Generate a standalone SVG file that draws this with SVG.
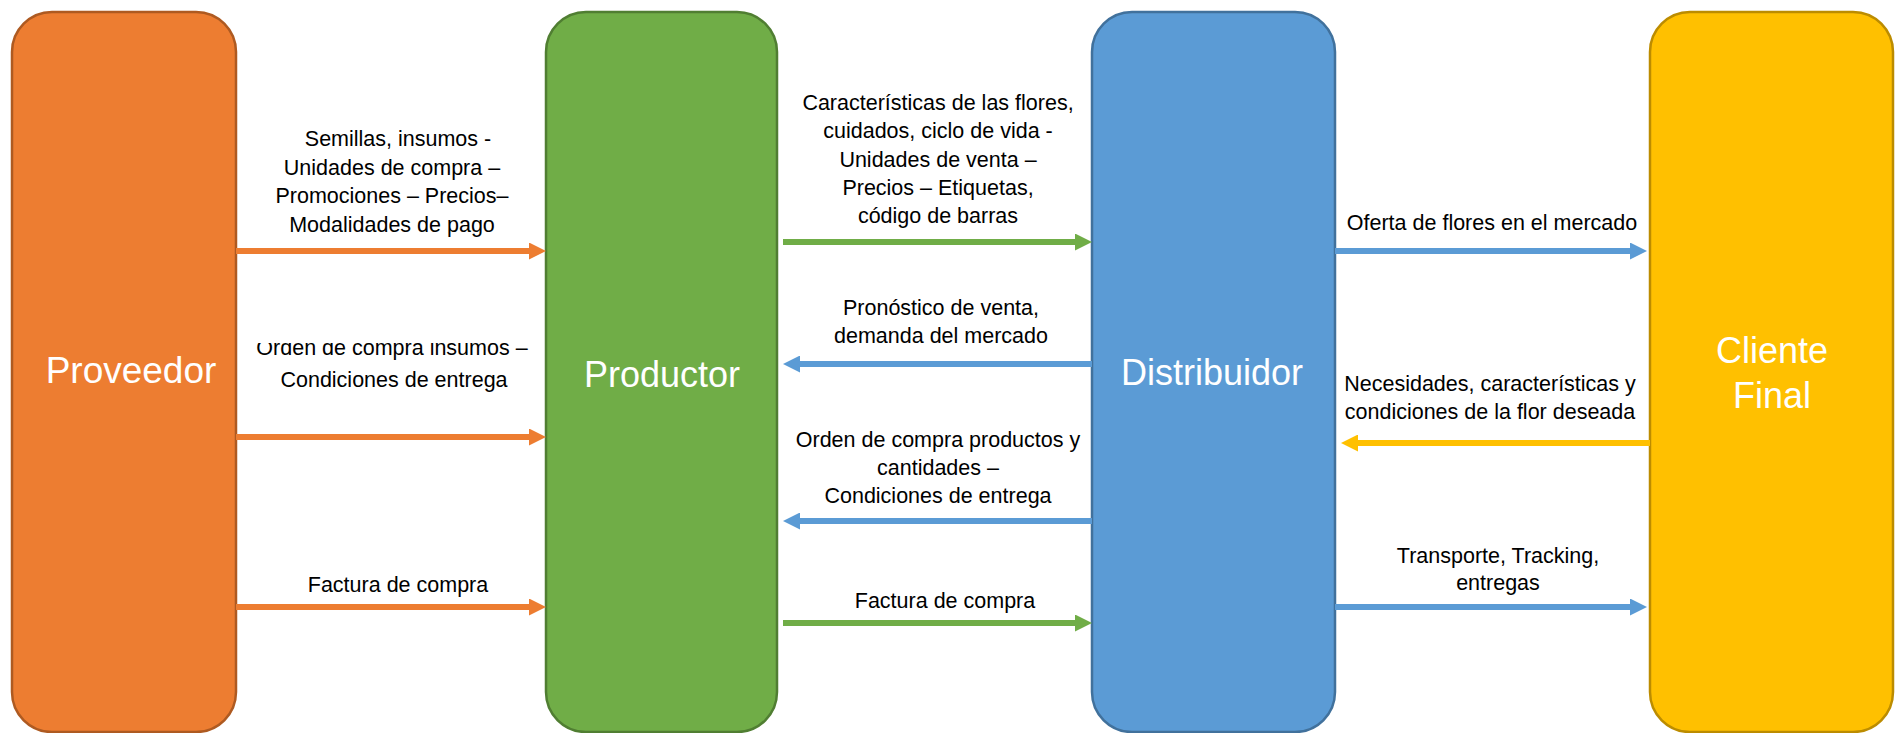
<svg xmlns="http://www.w3.org/2000/svg" width="1896" height="733" viewBox="0 0 1896 733">
<style>
.box{stroke-width:2.5}
.lbl{font-family:"Liberation Sans",Arial,sans-serif;font-size:21.5px;fill:#000;text-anchor:middle}
.node{font-family:"Liberation Sans",Arial,sans-serif;font-size:36px;fill:#fff;text-anchor:middle}
.c{stroke-width:6;fill:none}
</style>
<defs>
<marker id="ao" viewBox="0 0 17 17" refX="0" refY="8.5" markerWidth="17" markerHeight="17" markerUnits="userSpaceOnUse" orient="auto"><path d="M0,0 L17,8.5 L0,17 z" fill="#ED7D31"/></marker>
<marker id="ag" viewBox="0 0 17 17" refX="0" refY="8.5" markerWidth="17" markerHeight="17" markerUnits="userSpaceOnUse" orient="auto"><path d="M0,0 L17,8.5 L0,17 z" fill="#70AD47"/></marker>
<marker id="ab" viewBox="0 0 17 17" refX="0" refY="8.5" markerWidth="17" markerHeight="17" markerUnits="userSpaceOnUse" orient="auto"><path d="M0,0 L17,8.5 L0,17 z" fill="#5B9BD5"/></marker>
<marker id="ay" viewBox="0 0 17 17" refX="0" refY="8.5" markerWidth="17" markerHeight="17" markerUnits="userSpaceOnUse" orient="auto"><path d="M0,0 L17,8.5 L0,17 z" fill="#FFC000"/></marker>
<clipPath id="clipB"><rect x="230" y="343" width="320" height="60"/></clipPath>
</defs>
<rect width="1896" height="733" fill="#fff"/>

<g id="proveedor">
<rect class="box" x="12" y="12" width="224" height="720" rx="40" fill="#ED7D31" stroke="#AE5A21"/>
<text class="node" x="131" y="383" style="font-size:37px">Proveedor</text>
</g>
<g id="productor">
<rect class="box" x="546" y="12" width="231" height="720" rx="40" fill="#70AD47" stroke="#507E32"/>
<text class="node" x="662" y="387">Productor</text>
</g>
<g id="distribuidor">
<rect class="box" x="1092" y="12" width="243" height="720" rx="40" fill="#5B9BD5" stroke="#41719C"/>
<text class="node" x="1212" y="385">Distribuidor</text>
</g>
<g id="cliente">
<rect class="box" x="1650" y="12" width="243" height="720" rx="40" fill="#FFC000" stroke="#BC8C00"/>
<text class="node" x="1772" y="363">Cliente</text>
<text class="node" x="1772" y="408">Final</text>
</g>

<g id="connectors">
<line class="c" x1="236" y1="251" x2="529" y2="251" stroke="#ED7D31" marker-end="url(#ao)"/>
<line class="c" x1="236" y1="437" x2="529" y2="437" stroke="#ED7D31" marker-end="url(#ao)"/>
<line class="c" x1="236" y1="607" x2="529" y2="607" stroke="#ED7D31" marker-end="url(#ao)"/>
<line class="c" x1="783" y1="242" x2="1075" y2="242" stroke="#70AD47" marker-end="url(#ag)"/>
<line class="c" x1="1092" y1="364" x2="800" y2="364" stroke="#5B9BD5" marker-end="url(#ab)"/>
<line class="c" x1="1092" y1="521" x2="800" y2="521" stroke="#5B9BD5" marker-end="url(#ab)"/>
<line class="c" x1="783" y1="623" x2="1075" y2="623" stroke="#70AD47" marker-end="url(#ag)"/>
<line class="c" x1="1335" y1="251" x2="1630" y2="251" stroke="#5B9BD5" marker-end="url(#ab)"/>
<line class="c" x1="1650" y1="443" x2="1358" y2="443" stroke="#FFC000" marker-end="url(#ay)"/>
<line class="c" x1="1335" y1="607" x2="1630" y2="607" stroke="#5B9BD5" marker-end="url(#ab)"/>
</g>

<g id="labels">
<text class="lbl" x="398" y="146">Semillas, insumos -</text>
<text class="lbl" x="392" y="175">Unidades de compra –</text>
<text class="lbl" x="392" y="203">Promociones – Precios–</text>
<text class="lbl" x="392" y="232">Modalidades de pago</text>
<g clip-path="url(#clipB)"><text class="lbl" x="392" y="355">Orden de compra insumos –</text></g>
<text class="lbl" x="394" y="387">Condiciones de entrega</text>
<text class="lbl" x="398" y="592">Factura de compra</text>
<text class="lbl" x="938" y="110">Características de las flores,</text>
<text class="lbl" x="938" y="138">cuidados, ciclo de vida -</text>
<text class="lbl" x="938" y="167">Unidades de venta –</text>
<text class="lbl" x="938" y="195">Precios – Etiquetas,</text>
<text class="lbl" x="938" y="223">código de barras</text>
<text class="lbl" x="941" y="315">Pronóstico de venta,</text>
<text class="lbl" x="941" y="343">demanda del mercado</text>
<text class="lbl" x="938" y="447">Orden de compra productos y</text>
<text class="lbl" x="938" y="475">cantidades –</text>
<text class="lbl" x="938" y="503">Condiciones de entrega</text>
<text class="lbl" x="945" y="608">Factura de compra</text>
<text class="lbl" x="1492" y="230">Oferta de flores en el mercado</text>
<text class="lbl" x="1490" y="391">Necesidades, características y</text>
<text class="lbl" x="1490" y="419">condiciones de la flor deseada</text>
<text class="lbl" x="1498" y="563">Transporte, Tracking,</text>
<text class="lbl" x="1498" y="590">entregas</text>
</g>
</svg>
